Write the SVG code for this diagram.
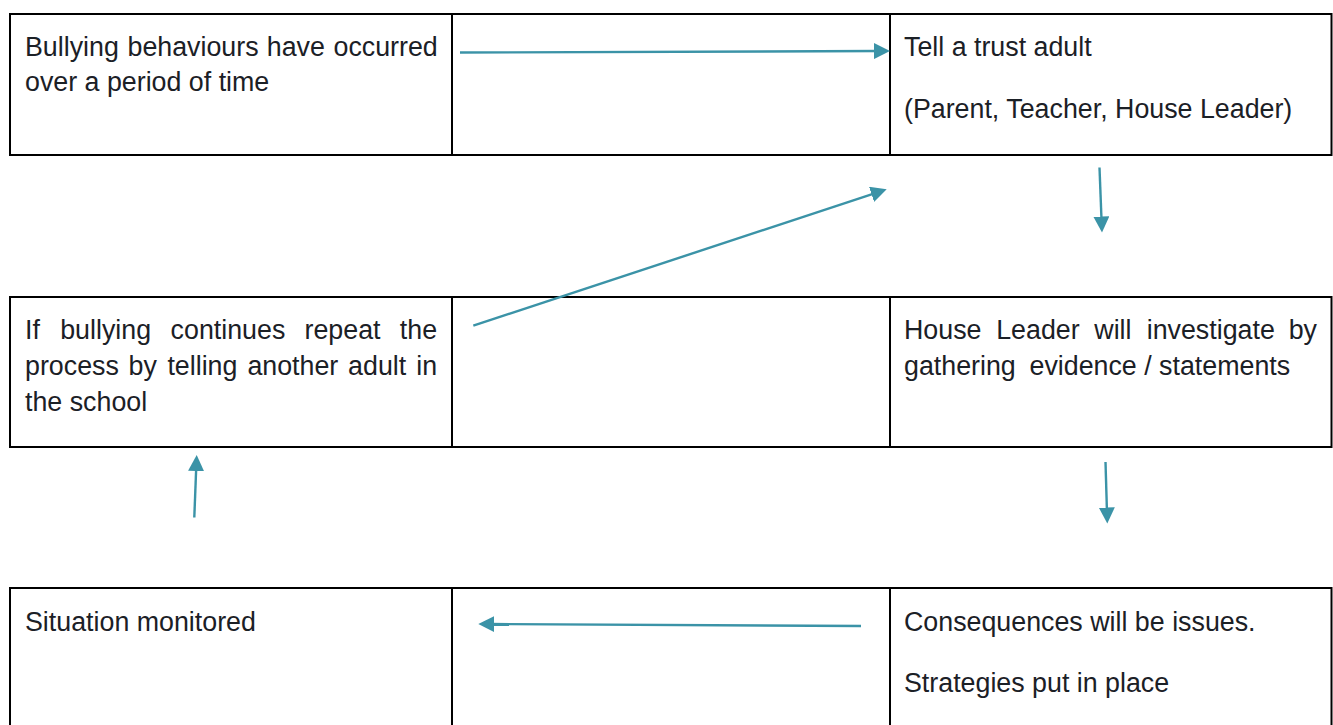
<svg xmlns="http://www.w3.org/2000/svg" width="1333" height="725" viewBox="0 0 1333 725">
  <style>
    .cell { fill: #ffffff; stroke: #000000; stroke-width: 2; }
    .label { font-family: "Liberation Sans", Arial, sans-serif; font-size: 26.8px; fill: #1b2026; }
    .flow { stroke: #3b93a7; stroke-width: 2.4; fill: none; marker-end: url(#head); }
  </style>
  <defs>
    <!-- arrowhead; each line stops 12px short of the tip so the stroke stays hidden under the head -->
    <marker id="head" markerUnits="userSpaceOnUse" markerWidth="18" markerHeight="16" refX="4" refY="8" orient="auto">
      <path d="M0,0 L16,8 L0,16 Z" fill="#3b93a7"/>
    </marker>
  </defs>

  <rect width="1333" height="725" fill="#ffffff"/>

  <!-- empty middle cells of the table -->
  <g id="spacers">
    <rect class="cell" x="452" y="14" width="438" height="141"/>
    <rect class="cell" x="452" y="297" width="438" height="150"/>
    <rect class="cell" x="452" y="588" width="438" height="200"/>
  </g>

  <g id="bullying-occurred">
    <rect class="cell" x="10" y="14" width="442" height="141"/>
    <text class="label" y="55.5"><tspan x="25">Bullying</tspan><tspan x="127.5">behaviours</tspan><tspan x="266.8">have</tspan><tspan x="333.5">occurred</tspan></text>
    <text class="label" x="25" y="90.5">over a period of time</text>
  </g>

  <g id="tell-adult">
    <rect class="cell" x="890" y="14" width="441.5" height="141"/>
    <text class="label" x="904" y="55.5">Tell a trust adult</text>
    <text class="label" x="904" y="117.5">(Parent, Teacher, House Leader)</text>
  </g>

  <g id="repeat-process">
    <rect class="cell" x="10" y="297" width="442" height="150"/>
    <text class="label" y="338.5"><tspan x="25">If</tspan><tspan x="60.2">bullying</tspan><tspan x="170.6">continues</tspan><tspan x="304.5">repeat</tspan><tspan x="399.8">the</tspan></text>
    <text class="label" y="374.5"><tspan x="25">process</tspan><tspan x="128.6">by</tspan><tspan x="167.4">telling</tspan><tspan x="247.4">another</tspan><tspan x="348.1">adult</tspan><tspan x="416.2">in</tspan></text>
    <text class="label" x="25" y="410.5">the school</text>
  </g>

  <g id="investigate">
    <rect class="cell" x="890" y="297" width="441.5" height="150"/>
    <text class="label" y="338.5"><tspan x="904">House</tspan><tspan x="996.2">Leader</tspan><tspan x="1094.3">will</tspan><tspan x="1146.7">investigate</tspan><tspan x="1288.7">by</tspan></text>
    <text class="label" y="374.5"><tspan x="904">gathering</tspan><tspan x="1029.5">evidence / statements</tspan></text>
  </g>

  <g id="monitored">
    <rect class="cell" x="10" y="588" width="442" height="200"/>
    <text class="label" x="25" y="630.5">Situation monitored</text>
  </g>

  <g id="consequences">
    <rect class="cell" x="890" y="588" width="441.5" height="200"/>
    <text class="label" x="904" y="630.5">Consequences will be issues.</text>
    <text class="label" x="904" y="691.5">Strategies put in place</text>
  </g>

  <!-- connectors -->
  <g id="connectors">
    <line class="flow" x1="460" y1="52.5" x2="878" y2="51.04"/>
    <line class="flow" x1="1099.5" y1="167.5" x2="1101.54" y2="220.51"/>
    <line class="flow" x1="1105.5" y1="462" x2="1106.95" y2="511.5"/>
    <line class="flow" x1="861" y1="626" x2="490.3" y2="624.06"/>
    <line class="flow" x1="194.3" y1="517.5" x2="196.24" y2="467"/>
    <line class="flow" x1="473.3" y1="325.7" x2="875.3" y2="193.06"/>
  </g>
</svg>
